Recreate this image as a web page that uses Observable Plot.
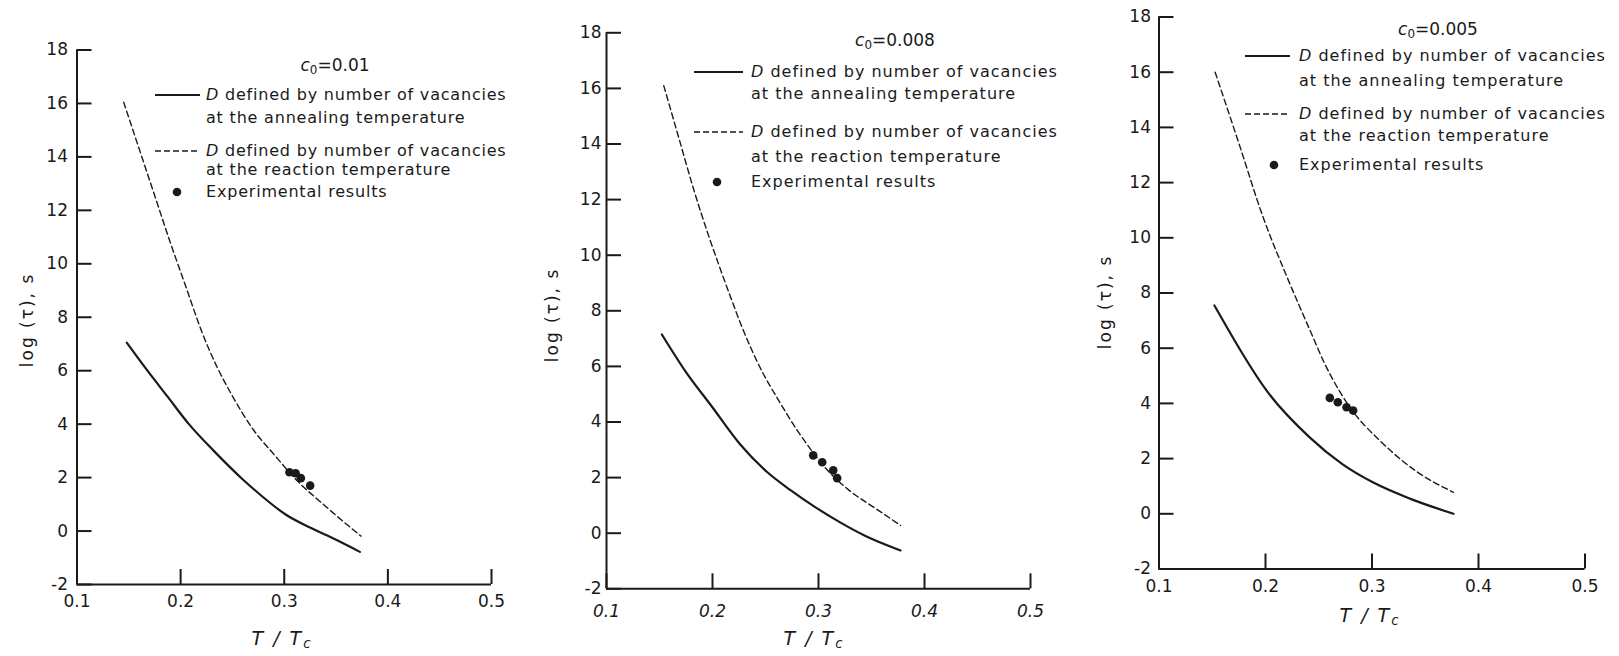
<!DOCTYPE html>
<html>
<head>
<meta charset="utf-8">
<script src="https://cdn.jsdelivr.net/npm/d3@7"></script>
<script src="https://cdn.jsdelivr.net/npm/@observablehq/plot@0.6"></script>
<style>
html,body{margin:0;padding:0;background:#fff;}
#root{position:relative;width:1619px;height:656px;overflow:hidden;background:#fff;font-family:"DejaVu Sans",sans-serif;color:#1a1a1a;}
.t{position:absolute;white-space:nowrap;line-height:1;font-size:16px;transform:translateY(-50%);}
.c0{position:absolute;white-space:nowrap;line-height:1;font-size:17px;transform:translate(-50%,-50%);}
.c0 sub,.xlab sub{font-size:0.7em;vertical-align:-0.3em;line-height:0;}
.ylab{position:absolute;white-space:nowrap;line-height:1;font-size:17px;letter-spacing:2px;transform:translate(-50%,-50%) rotate(-90deg);}
.xlab{position:absolute;white-space:nowrap;line-height:1;font-size:19px;font-style:italic;letter-spacing:2px;transform:translate(-50%,-50%);}
</style>
</head>
<body>
<div id="root"></div>
<script>
// ---- shared axis ticks ----
const xTicks = [0.1, 0.2, 0.3, 0.4, 0.5];
const yTicks = [-2, 0, 2, 4, 6, 8, 10, 12, 14, 16, 18];
const concentrations = ["0.01", "0.008", "0.005"];
const legendLines = [
  "defined by number of vacancies",
  "at the annealing temperature",
  "defined by number of vacancies",
  "at the reaction temperature",
  "Experimental results"
];

// ---- c0 = 0.01 ----
const annealT1 = [0.148, 0.168, 0.188, 0.208, 0.232, 0.2595, 0.2771, 0.3013, 0.3254, 0.3495, 0.373];
const annealLog1 = [7.05, 6.0, 5.0, 4.0, 3.0, 1.95, 1.35, 0.62, 0.12, -0.32, -0.78];
const reactT1 = [0.145, 0.16, 0.175, 0.19, 0.205, 0.22, 0.235, 0.25, 0.27, 0.29, 0.31, 0.34, 0.374];
const reactLog1 = [16.05, 14.3, 12.55, 10.8, 9.15, 7.5, 6.15, 5.05, 3.8, 2.87, 1.98, 0.92, -0.19];
const expT1 = [0.305, 0.311, 0.316, 0.325];
const expLog1 = [2.2, 2.16, 1.98, 1.7];

// ---- c0 = 0.008 ----
const annealT2 = [0.1522, 0.174, 0.1999, 0.226, 0.2515, 0.2736, 0.2972, 0.3208, 0.3443, 0.3774];
const annealLog2 = [7.15, 5.85, 4.53, 3.2, 2.2, 1.55, 0.93, 0.38, -0.1, -0.62];
const reactT2 = [0.154, 0.168, 0.182, 0.195, 0.206, 0.217, 0.228, 0.245, 0.2644, 0.28, 0.2935, 0.31, 0.329, 0.3554, 0.3774];
const reactLog2 = [16.1, 14.25, 12.4, 10.85, 9.65, 8.5, 7.4, 5.95, 4.65, 3.7, 2.97, 2.2, 1.54, 0.85, 0.28];
const expT2 = [0.295, 0.3035, 0.3139, 0.3176];
const expLog2 = [2.8, 2.55, 2.26, 1.98];

// ---- c0 = 0.005 ----
const annealT3 = [0.152, 0.1655, 0.1784, 0.2009, 0.2412, 0.2718, 0.3008, 0.3362, 0.3765];
const annealLog3 = [7.55, 6.64, 5.8, 4.47, 2.78, 1.81, 1.14, 0.54, 0.0];
const reactT3 = [0.1527, 0.1752, 0.1977, 0.2203, 0.2412, 0.2557, 0.2815, 0.3072, 0.3427, 0.3765];
const reactLog3 = [16.0, 13.4, 10.75, 8.57, 6.7, 5.43, 3.74, 2.66, 1.51, 0.78];
const expT3 = [0.2604, 0.2679, 0.2761, 0.2823];
const expLog3 = [4.2, 4.04, 3.86, 3.74];

const ink = "#1a1a1a";
const root = document.getElementById("root");

const panels = [
  {c0: concentrations[0], aT: annealT1, aL: annealLog1, rT: reactT1, rL: reactLog1, eT: expT1, eL: expLog1,
   left: 0, width: 520, ml: 76.5, mr: 29, mt: 49.5, mb: 72, yPad: 9, xPad: 10, xItalic: false,
   lg: {cx: 335, cy: 65, sx1: 155, sx2: 200, tx: 206, ls: 0.8, y: [95, 118, 150.5, 170, 191.5], dotx: 177},
   ylab: [27, 320], xlab: [282, 638]},
  {c0: concentrations[1], aT: annealT2, aL: annealLog2, rT: reactT2, rL: reactLog2, eT: expT2, eL: expLog2,
   left: 540, width: 520, ml: 66, mr: 30, mt: 32.3, mb: 67.7, yPad: 5, xPad: 16, xItalic: true,
   lg: {cx: 895, cy: 40, sx1: 694, sx2: 743, tx: 751, ls: 1.0, y: [72, 93.5, 131.5, 156.5, 181.5], dotx: 717},
   ylab: [552, 315], xlab: [814, 638]},
  {c0: concentrations[2], aT: annealT3, aL: annealLog3, rT: reactT3, rL: reactLog3, eT: expT3, eL: expLog3,
   left: 1090, width: 529, ml: 68.5, mr: 34.5, mt: 16.5, mb: 87.5, yPad: 8, xPad: 11, xItalic: false,
   lg: {cx: 1438, cy: 28.5, sx1: 1245, sx2: 1290, tx: 1299, ls: 1.0, y: [56, 81, 113.5, 136, 165], dotx: 1274},
   ylab: [1105, 302], xlab: [1370, 615]}
];

function addDiv(cls, html, x, y, extra) {
  const d = document.createElement("div");
  d.className = cls;
  d.innerHTML = html;
  d.style.left = x + "px";
  d.style.top = y + "px";
  if (extra) Object.assign(d.style, extra);
  root.appendChild(d);
  return d;
}

function sample(x1, x2, y, kind) {
  const w = x2 - x1;
  const s = d3.create("svg")
    .attr("width", w).attr("height", 12)
    .style("position", "absolute").style("left", x1 + "px").style("top", (y - 6) + "px")
    .style("overflow", "visible");
  if (kind === "dot") {
    s.append("circle").attr("cx", w / 2).attr("cy", 6).attr("r", 4.3).attr("fill", ink);
  } else {
    const l = s.append("line").attr("x1", 0).attr("x2", w).attr("y1", 6).attr("y2", 6)
      .attr("stroke", ink).attr("stroke-width", kind === "solid" ? 2.2 : 1.4);
    if (kind === "dash") l.attr("stroke-dasharray", "6,3");
  }
  root.appendChild(s.node());
}

for (const p of panels) {
  const height = 656;
  const pw = p.width - p.ml - p.mr;
  const ph = height - p.mt - p.mb;
  const anneal = p.aT.map((t, i) => ({t, v: p.aL[i]}));
  const react = p.rT.map((t, i) => ({t, v: p.rL[i]}));
  const exper = p.eT.map((t, i) => ({t, v: p.eL[i]}));

  const svg = Plot.plot({
    width: p.width,
    height,
    marginLeft: p.ml, marginRight: p.mr, marginTop: p.mt, marginBottom: p.mb,
    style: {fontFamily: "'DejaVu Sans', sans-serif", fontSize: "17px", color: ink, background: "transparent", overflow: "visible"},
    x: {domain: [0.1, 0.5], ticks: xTicks, tickSize: 0, tickPadding: p.xPad, tickFormat: d => d.toFixed(1), label: null},
    y: {domain: [-2, 18], ticks: yTicks, tickSize: 0, tickPadding: p.yPad, tickFormat: d => String(d), label: null},
    marks: [
      Plot.ruleX([0.1], {stroke: ink, strokeWidth: 2}),
      Plot.ruleY([-2], {stroke: ink, strokeWidth: 2}),
      Plot.tickY(yTicks, {y: d => d, stroke: ink, strokeWidth: 2, insetRight: pw - 15}),
      Plot.tickX(xTicks, {x: d => d, stroke: ink, strokeWidth: 2, insetTop: ph - 15}),
      Plot.line(anneal, {x: "t", y: "v", curve: "monotone-x", stroke: ink, strokeWidth: 2.2}),
      Plot.line(react, {x: "t", y: "v", curve: "monotone-x", stroke: ink, strokeWidth: 1.4, strokeDasharray: "6,3.5"}),
      Plot.dot(exper, {x: "t", y: "v", r: 4.3, fill: ink, stroke: "none"})
    ]
  });
  svg.style.position = "absolute";
  svg.style.left = p.left + "px";
  svg.style.top = "0px";
  root.appendChild(svg);

  // enlarge axis tick labels
  svg.querySelectorAll("g[aria-label]").forEach(g => {
    if (/axis/.test(g.getAttribute("aria-label"))) g.setAttribute("font-size", "17");
  });
  svg.querySelectorAll("text").forEach(t => { t.style.fontSize = "17px"; });

  if (p.xItalic) {
    svg.querySelectorAll('g[aria-label="x-axis tick label"] text, g[aria-label="x-axis"] text').forEach(t => t.setAttribute("font-style", "italic"));
  }

  // legend
  const g = p.lg;
  addDiv("c0", `<i>c</i><sub>0</sub>=${p.c0}`, g.cx, g.cy);
  sample(g.sx1, g.sx2, g.y[0], "solid");
  sample(g.sx1, g.sx2, g.y[2], "dash");
  sample(g.dotx - 6, g.dotx + 6, g.y[4], "dot");
  const ls = {letterSpacing: g.ls + "px"};
  addDiv("t", `<i>D</i> ${legendLines[0]}`, g.tx, g.y[0], ls);
  addDiv("t", legendLines[1], g.tx, g.y[1], ls);
  addDiv("t", `<i>D</i> ${legendLines[2]}`, g.tx, g.y[2], ls);
  addDiv("t", legendLines[3], g.tx, g.y[3], ls);
  addDiv("t", legendLines[4], g.tx, g.y[4], ls);

  // axis titles
  addDiv("ylab", "log (τ), s", p.ylab[0], p.ylab[1]);
  addDiv("xlab", "T / T<sub>c</sub>", p.xlab[0], p.xlab[1]);
}
</script>
</body>
</html>
